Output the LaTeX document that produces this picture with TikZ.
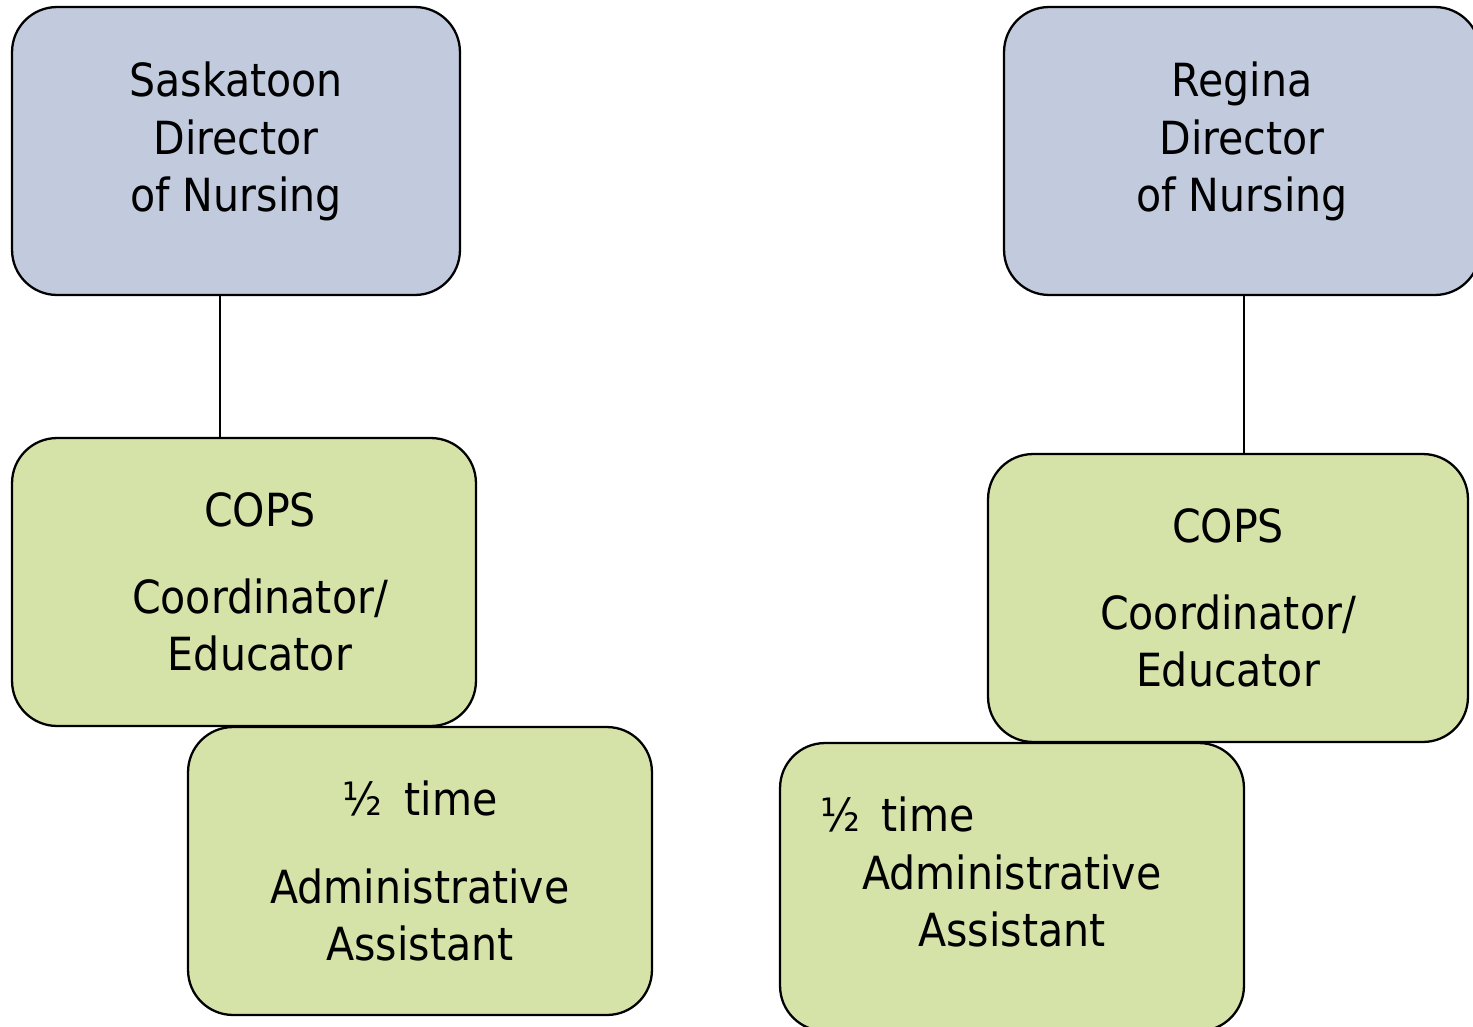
\documentclass[tikz,border=0pt]{standalone}
\usepackage{fontspec}
\setmainfont{DejaVu Sans Condensed}

\definecolor{dirblue}{HTML}{C2CBDD}
\definecolor{staffgreen}{HTML}{D6E3A8}

\tikzset{
  orgbox/.style={draw=black, line width=1.3pt, rounded corners=0.9cm, align=center,
    inner sep=0pt, font=\fontsize{26}{32.7}\selectfont},
  dirbox/.style={orgbox, fill=dirblue, minimum height=5.76cm, text depth=0.56cm},
  staffbox/.style={orgbox, fill=staffgreen, minimum width=9.28cm, minimum height=5.76cm},
  link/.style={draw=black, line width=1.3pt}
}

\begin{document}
\begin{tikzpicture}[x=0.02cm, y=-0.02cm]
\useasboundingbox (0,0) rectangle (1473,1027);

% Directors of nursing
\node[dirbox, minimum width=8.96cm] (sask) at (236,151) {Saskatoon\\Director\\of Nursing};
\node[dirbox, minimum width=9.52cm] (regina) at (1242,151) {Regina\\Director\\of Nursing};

% COPS coordinators
\node[staffbox] (copsL) at (244,582) {\hspace*{0.64cm}COPS\\[0.59cm]\hspace*{0.64cm}Coordinator/\\\hspace*{0.64cm}Educator};
\node[staffbox, minimum width=9.6cm] (copsR) at (1228,598) {COPS\\[0.59cm]Coordinator/\\Educator};

% Half time assistants
\node[staffbox] (adminL) at (420,871) {½\hspace{0.44cm}time\\[0.6cm]Administrative\\Assistant};
\node[staffbox, text depth=0.6cm] (adminR) at (1012,887) {\makebox[7.68cm][l]{½\hspace{0.44cm}time}\\Administrative\\Assistant};

% Reporting lines
\draw[link] ([xshift=-0.32cm]sask.south) -- ([xshift=-0.32cm]sask.south |- copsL.north);
\draw[link] ([xshift=0.04cm]regina.south) -- ([xshift=0.04cm]regina.south |- copsR.north);
\end{tikzpicture}
\end{document}
